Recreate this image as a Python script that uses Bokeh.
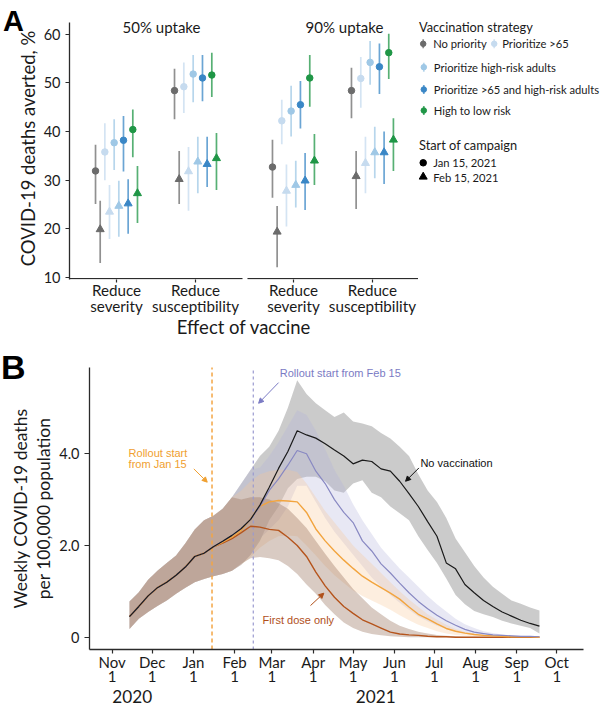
import pandas as pd
from bokeh.plotting import figure
from bokeh.layouts import column, row
from bokeh.models import (Range1d, FixedTicker, Label, Arrow, NormalHead,
                          ColumnDataSource, LinearAxis)
from bokeh.core.properties import value
from bokeh.embed import file_html
from bokeh.resources import INLINE

# ------------------------------------------------------------------ panel A data
strategies = ["No priority", "Prioritize >65", "Prioritize high-risk adults",
              "Prioritize >65 and high-risk adults", "High to low risk"]
effects_l1 = ["Reduce", "Reduce"]
effects_l2 = ["severity", "susceptibility"]
uptakes = ["50% uptake", "90% uptake"]
starts = ["Jan 15, 2021", "Feb 15, 2021"]

u50_sev_jan_mean = [31.9, 35.8, 37.7, 38.2, 40.4]
u50_sev_jan_lo = [25.1, 30.0, 32.1, 31.8, 34.7]
u50_sev_jan_hi = [37.3, 41.7, 42.5, 43.2, 44.5]
u50_sev_feb_mean = [19.9, 23.5, 24.7, 25.2, 27.3]
u50_sev_feb_lo = [13.0, 17.9, 18.4, 19.0, 21.2]
u50_sev_feb_hi = [25.8, 29.0, 29.9, 30.2, 32.9]

u50_sus_jan_mean = [48.4, 49.2, 51.8, 51.0, 51.6]
u50_sus_jan_lo = [42.5, 43.8, 46.0, 46.2, 47.1]
u50_sus_jan_hi = [52.9, 54.2, 55.7, 55.7, 56.2]
u50_sus_feb_mean = [30.2, 31.8, 33.8, 33.3, 34.5]
u50_sus_feb_lo = [25.1, 23.7, 27.3, 28.6, 28.0]
u50_sus_feb_hi = [36.0, 36.8, 38.9, 38.9, 39.7]

u90_sev_jan_mean = [32.7, 42.2, 44.2, 45.5, 51.0]
u90_sev_jan_lo = [26.4, 37.4, 39.0, 40.6, 45.1]
u90_sev_jan_hi = [38.3, 46.5, 49.4, 50.4, 55.7]
u90_sev_feb_mean = [19.4, 27.8, 29.0, 29.9, 34.0]
u90_sev_feb_lo = [12.1, 20.5, 24.4, 23.9, 29.0]
u90_sev_feb_hi = [24.7, 33.2, 34.0, 35.6, 39.5]

u90_sus_jan_mean = [48.4, 50.9, 54.2, 53.3, 56.2]
u90_sus_jan_lo = [42.7, 44.9, 49.6, 47.7, 50.8]
u90_sus_jan_hi = [53.1, 55.3, 58.6, 58.1, 60.1]
u90_sus_feb_mean = [30.8, 33.5, 35.7, 35.7, 38.3]
u90_sus_feb_lo = [24.1, 27.3, 30.4, 29.2, 31.9]
u90_sus_feb_hi = [36.0, 38.9, 41.0, 40.0, 42.7]

# ------------------------------------------------------------------ panel B data
week_dates = pd.date_range("2020-11-14", periods=45, freq="7D")

nv_mean = [0.45, 0.67, 0.90, 1.08, 1.20, 1.35, 1.53, 1.76, 1.83, 1.97, 2.09, 2.22, 2.37, 2.57, 2.88,
           3.27, 3.68, 4.05, 4.50, 4.41, 4.34, 4.22, 4.08, 3.95, 3.78, 3.86, 3.83, 3.67, 3.62, 3.40,
           3.13, 2.85, 2.52, 2.20, 1.62, 1.49, 1.15, 0.97, 0.80, 0.67, 0.55, 0.46, 0.37, 0.30, 0.24]
nv_lo = [0.18, 0.40, 0.55, 0.68, 0.80, 0.95, 1.08, 1.20, 1.27, 1.33, 1.38, 1.45, 1.58, 1.80, 2.10,
         2.55, 2.85, 3.25, 3.45, 3.50, 3.50, 3.40, 3.20, 3.15, 3.35, 3.42, 3.15, 3.05, 2.85, 2.70,
         2.55, 2.20, 1.90, 1.62, 1.28, 0.92, 0.72, 0.57, 0.50, 0.44, 0.36, 0.30, 0.25, 0.20, 0.08]
nv_hi = [0.78, 0.98, 1.25, 1.45, 1.62, 1.78, 2.05, 2.35, 2.55, 2.65, 2.80, 3.05, 3.35, 3.65, 3.95,
         4.15, 4.50, 5.00, 5.60, 5.30, 5.10, 4.95, 4.80, 4.90, 4.70, 4.66, 4.60, 4.45, 4.33, 4.15,
         3.95, 3.55, 3.20, 2.95, 2.60, 2.15, 1.85, 1.55, 1.30, 1.10, 0.95, 0.80, 0.73, 0.65, 0.58]

feb_mean = [0.45, 0.67, 0.90, 1.08, 1.20, 1.35, 1.53, 1.76, 1.83, 1.97, 2.09, 2.22, 2.37, 2.57, 2.85,
            3.20, 3.45, 3.75, 4.07, 4.00, 3.62, 3.35, 3.00, 2.72, 2.50, 2.10, 1.88, 1.60, 1.40, 1.18,
            0.97, 0.78, 0.62, 0.48, 0.36, 0.26, 0.17, 0.11, 0.08, 0.05, 0.04, 0.03, 0.02, 0.02, 0.01]
feb_lo = [0.18, 0.40, 0.55, 0.68, 0.80, 0.95, 1.08, 1.20, 1.27, 1.33, 1.38, 1.45, 1.58, 1.80, 2.15,
          2.35, 2.55, 2.85, 3.30, 3.30, 2.95, 2.60, 2.30, 2.05, 1.80, 1.55, 1.30, 1.10, 0.92, 0.75,
          0.60, 0.45, 0.35, 0.25, 0.18, 0.12, 0.08, 0.05, 0.03, 0.02, 0.01, 0.01, 0.00, 0.00, 0.00]
feb_hi = [0.78, 0.98, 1.25, 1.45, 1.62, 1.78, 2.05, 2.35, 2.55, 2.65, 2.80, 3.05, 3.35, 3.65, 3.70,
          3.95, 4.25, 4.60, 4.95, 4.85, 4.50, 4.10, 3.65, 3.30, 2.90, 2.55, 2.25, 1.95, 1.72, 1.50,
          1.30, 1.10, 0.90, 0.72, 0.56, 0.40, 0.28, 0.20, 0.13, 0.09, 0.06, 0.04, 0.03, 0.02, 0.02]

jan_mean = [0.45, 0.67, 0.90, 1.08, 1.20, 1.35, 1.53, 1.76, 1.83, 1.97, 2.07, 2.18, 2.33, 2.58, 2.85,
            2.95, 2.98, 2.97, 2.95, 2.72, 2.36, 2.10, 1.88, 1.68, 1.50, 1.33, 1.20, 1.08, 0.96, 0.83,
            0.66, 0.50, 0.40, 0.29, 0.19, 0.13, 0.09, 0.06, 0.04, 0.03, 0.02, 0.01, 0.01, 0.01, 0.00]
jan_lo = [0.18, 0.40, 0.55, 0.68, 0.80, 0.95, 1.08, 1.20, 1.27, 1.33, 1.38, 1.45, 1.58, 1.75, 1.95,
          2.10, 2.20, 2.22, 2.20, 2.00, 1.78, 1.55, 1.35, 1.18, 1.02, 0.90, 0.80, 0.70, 0.60, 0.48,
          0.37, 0.27, 0.20, 0.13, 0.08, 0.05, 0.03, 0.02, 0.01, 0.01, 0.00, 0.00, 0.00, 0.00, 0.00]
jan_hi = [0.78, 0.98, 1.25, 1.45, 1.62, 1.78, 2.05, 2.35, 2.55, 2.65, 2.80, 3.05, 3.20, 3.40, 3.55,
          3.62, 3.65, 3.65, 3.60, 3.35, 3.05, 2.75, 2.50, 2.25, 2.00, 1.80, 1.60, 1.40, 1.20, 1.00,
          0.82, 0.66, 0.50, 0.38, 0.27, 0.18, 0.12, 0.08, 0.06, 0.04, 0.03, 0.02, 0.02, 0.01, 0.01]

fd_mean = [0.45, 0.67, 0.90, 1.08, 1.20, 1.35, 1.53, 1.76, 1.83, 1.97, 2.05, 2.15, 2.28, 2.42, 2.40,
           2.35, 2.33, 2.18, 2.00, 1.76, 1.42, 1.12, 0.87, 0.67, 0.52, 0.38, 0.29, 0.20, 0.11, 0.07,
           0.05, 0.04, 0.02, 0.01, 0.01, 0.00, 0.00, 0.00, 0.00, 0.00, 0.00, 0.00, 0.00, 0.00, 0.00]
fd_lo = [0.18, 0.40, 0.55, 0.68, 0.80, 0.95, 1.08, 1.20, 1.27, 1.33, 1.38, 1.45, 1.60, 1.72, 1.75,
         1.72, 1.68, 1.55, 1.38, 1.15, 0.95, 0.70, 0.50, 0.32, 0.20, 0.12, 0.07, 0.04, 0.02, 0.01,
         0.00, 0.00, 0.00, 0.00, 0.00, 0.00, 0.00, 0.00, 0.00, 0.00, 0.00, 0.00, 0.00, 0.00, 0.00]
fd_hi = [0.78, 0.98, 1.25, 1.45, 1.62, 1.78, 2.05, 2.35, 2.55, 2.65, 2.80, 3.05, 3.00, 3.05, 3.05,
         3.00, 2.92, 2.80, 2.60, 2.38, 2.10, 1.82, 1.55, 1.30, 1.05, 0.85, 0.65, 0.50, 0.36, 0.25,
         0.18, 0.12, 0.08, 0.05, 0.03, 0.02, 0.01, 0.01, 0.00, 0.00, 0.00, 0.00, 0.00, 0.00, 0.00]

month_ticks = ["2020-11-01", "2020-12-01", "2021-01-01", "2021-02-01", "2021-03-01", "2021-04-01",
               "2021-05-01", "2021-06-01", "2021-07-01", "2021-08-01", "2021-09-01", "2021-10-01"]
month_names = ["Nov", "Dec", "Jan", "Feb", "Mar", "Apr", "May", "Jun", "Jul", "Aug", "Sep", "Oct"]
month_days = ["1"] * 12
year_ticks = ["2020-11-16", "2021-05-18"]
year_labels = ["2020", "2021"]
rollout_dates = ["2021-01-15", "2021-02-15"]

# ------------------------------------------------------------------ styles
TXT = "#1a1a1a"
AX = "#2b2b2b"
FONT = "Lato"
ARIAL = "Liberation Sans"
strat_colors = ["#6b6b6b", "#c6dbef", "#9fc8e6", "#3a87c6", "#1f9646"]


def ms(s):
    return pd.Timestamp(s).value / 1e6


def style_axis(ax, size):
    ax.axis_line_color = AX
    ax.axis_line_width = 1.3
    ax.major_tick_line_color = AX
    ax.major_tick_line_width = 1.2
    ax.minor_tick_line_color = None
    ax.major_tick_in = 0
    ax.major_label_text_font = FONT
    ax.major_label_text_font_size = size
    ax.major_label_text_color = TXT
    ax.axis_label_text_font = FONT
    ax.axis_label_text_font_style = "normal"
    ax.axis_label_text_color = TXT


def label_axis(ticks, labels, size, standoff):
    ax = LinearAxis(ticker=FixedTicker(ticks=ticks),
                    major_label_overrides={t: l for t, l in zip(ticks, labels)})
    style_axis(ax, size)
    ax.axis_line_color = None
    ax.major_tick_line_color = None
    ax.major_tick_out = 0
    ax.major_label_standoff = standoff
    return ax


def aux_fig(w, page_top, page_bottom, h, border_bottom):
    # page coordinates: data y = -page_y ; frame spans page_top..page_bottom
    f = figure(width=w, height=h, x_range=Range1d(0, w), y_range=Range1d(-page_bottom, -page_top),
               min_border_left=0, min_border_right=0, min_border_top=0,
               min_border_bottom=border_bottom, toolbar_location=None, output_backend="svg",
               x_axis_type=None, y_axis_type=None, outline_line_color=None)
    f.grid.visible = False
    return f


# ------------------------------------------------------------------ panel A
cat_pos = [1.0, 2.0, 3.24, 4.24]
dodge_step = 0.059
groups = [
    (0, 0, 0, u50_sev_jan_mean, u50_sev_jan_lo, u50_sev_jan_hi),
    (0, 0, 1, u50_sev_feb_mean, u50_sev_feb_lo, u50_sev_feb_hi),
    (0, 1, 0, u50_sus_jan_mean, u50_sus_jan_lo, u50_sus_jan_hi),
    (0, 1, 1, u50_sus_feb_mean, u50_sus_feb_lo, u50_sus_feb_hi),
    (1, 0, 0, u90_sev_jan_mean, u90_sev_jan_lo, u90_sev_jan_hi),
    (1, 0, 1, u90_sev_feb_mean, u90_sev_feb_lo, u90_sev_feb_hi),
    (1, 1, 0, u90_sus_jan_mean, u90_sus_jan_lo, u90_sus_jan_hi),
    (1, 1, 1, u90_sus_feb_mean, u90_sus_feb_lo, u90_sus_feb_hi),
]
AH, A_BOT = 340, 279   # row height, frame bottom (page px)

figAL = aux_fig(40, 0, A_BOT, AH, AH - A_BOT)
figAL.text(x=[2.5], y=[-20.5], text=["A"], text_font=value(ARIAL), text_font_size="29px",
           text_font_style="bold", text_color="#000", text_baseline="middle")
figAL.text(x=[27.5], y=[-148], text=["COVID-19 deaths averted, %"], text_font=value(FONT),
           text_font_size="18.5px", text_color=TXT, text_align="center",
           text_baseline="middle", angle=1.5708)

figA = figure(width=378, height=AH, x_range=Range1d(0.405, 4.823),
              y_range=Range1d(9.6, 9.6 + A_BOT / 4.868),
              min_border_left=29, min_border_right=0, min_border_top=0,
              min_border_bottom=AH - A_BOT,
              toolbar_location=None, output_backend="svg", outline_line_color=None)
figA.grid.visible = False

for t in (0, 1):
    xs, mean, lo, hi, col = [], [], [], [], []
    for (f, e, tt, m, l, h) in groups:
        if tt != t:
            continue
        for s in range(5):
            xs.append(cat_pos[2 * f + e] + (2 * s + t - 4.5) * dodge_step)
            mean.append(m[s]); lo.append(l[s]); hi.append(h[s]); col.append(strat_colors[s])
    src = ColumnDataSource(dict(x=xs, mean=mean, lo=lo, hi=hi, color=col))
    figA.segment(x0="x", x1="x", y0="lo", y1="hi", line_color="color", line_width=1.7,
                 line_alpha=0.75, source=src)
    figA.scatter(x="x", y="mean", marker="circle" if t == 0 else "triangle",
                 size=6.5 if t == 0 else 8, fill_color="color", line_color="color", source=src)

# x-axis line drawn per facet (gap between facets)
figA.segment(x0=[0.405, 2.658], x1=[2.595, 4.823], y0=[9.78, 9.78], y1=[9.78, 9.78],
             line_color=AX, line_width=1.3)

style_axis(figA.xaxis[0], "15.2px")
style_axis(figA.yaxis[0], "14.5px")
figA.xaxis.axis_line_color = None
figA.xaxis.ticker = FixedTicker(ticks=cat_pos)
figA.xaxis.major_label_overrides = {cat_pos[i]: effects_l1[i % 2] for i in range(4)}
figA.xaxis.major_tick_out = 3
figA.xaxis.major_label_standoff = -2
figA.yaxis.ticker = FixedTicker(ticks=[10, 20, 30, 40, 50, 60])
figA.yaxis.bounds = (9.6, 62.4)
figA.yaxis.major_tick_out = 4
figA.yaxis.major_label_standoff = 5

axA2 = label_axis(cat_pos, [effects_l2[i % 2] for i in range(4)], "15.2px", -5)
axA2.axis_label = "Effect of vaccine"
axA2.axis_label_text_font_size = "18.5px"
axA2.axis_label_standoff = -2
figA.add_layout(axA2, "below")

figA.add_layout(Label(x=1.57, y=61.5, text=uptakes[0], text_font=FONT, text_font_size="15px",
                      text_color=TXT, text_align="center", text_baseline="middle"))
figA.add_layout(Label(x=3.886, y=61.5, text=uptakes[1], text_font=FONT, text_font_size="15px",
                      text_color=TXT, text_align="center", text_baseline="middle"))

# ------------------------------------------------------------------ legend
figL = aux_fig(182, 0, A_BOT, AH, AH - A_BOT)
leg_titles = ["Vaccination strategy", "Start of campaign"]
figL.text(x=[0.5, 0.5], y=[-26, -144.3], text=leg_titles, text_font=value(FONT),
          text_font_size="12.8px", text_color=TXT, text_baseline="middle")
key_x = [4.7, 75.7, 5.3, 5.3, 5.3]
key_y = [-43.3, -43.3, -66.7, -89, -110]
lab_x = [14.7, 83.7, 15.3, 15.3, 15.3]
figL.segment(x0=key_x, x1=key_x, y0=[y - 4.5 for y in key_y], y1=[y + 4.5 for y in key_y],
             line_color=strat_colors, line_width=1.7, line_alpha=0.75)
figL.scatter(x=key_x, y=key_y, size=5.5, marker="circle", fill_color=strat_colors,
             line_color=strat_colors)
figL.text(x=lab_x, y=key_y, text=strategies, text_font=value(FONT), text_font_size="11.2px",
          text_color=TXT, text_baseline="middle")
figL.scatter(x=[4.7], y=[-162.3], size=6.5, marker="circle", color="#000")
figL.scatter(x=[4.7], y=[-176.3], size=8, marker="triangle", color="#000")
figL.text(x=[14.7, 14.7], y=[-162.3, -176.7], text=starts, text_font=value(FONT),
          text_font_size="11.2px", text_color=TXT, text_baseline="middle")

# ------------------------------------------------------------------ panel B
B_TOP, B_BOT = AH, 649
BH = 724 - B_TOP
figBL = aux_fig(56, B_TOP, B_BOT, BH, B_TOP + BH - B_BOT)
figBL.text(x=[0.5], y=[-366.5], text=["B"], text_font=value(ARIAL), text_font_size="34px",
           text_font_style="bold", text_color="#000", text_baseline="middle")
figBL.text(x=[20, 43], y=[-508, -508],
           text=["Weekly COVID-19 deaths", "per 100,000 population"], text_font=value(FONT),
           text_font_size="17.5px", text_color=TXT, text_align="center", text_baseline="middle",
           angle=1.5708)

x0 = pd.Timestamp("2020-11-01") - pd.Timedelta(days=17.05)
x1 = pd.Timestamp("2020-11-01") + pd.Timedelta(days=354.1)
y_per_px = 6.148 / 282
figB = figure(width=544, height=BH, x_axis_type="datetime", x_range=Range1d(x0, x1),
              y_range=Range1d(-0.268, -0.268 + (B_BOT - B_TOP) * y_per_px),
              min_border_left=33, min_border_right=17, min_border_top=0,
              min_border_bottom=B_TOP + BH - B_BOT,
              toolbar_location=None, output_backend="svg", outline_line_color=None)
figB.grid.visible = False

srcB = ColumnDataSource(dict(date=week_dates, nv_mean=nv_mean, nv_lo=nv_lo, nv_hi=nv_hi,
                             feb_mean=feb_mean, feb_lo=feb_lo, feb_hi=feb_hi,
                             jan_mean=jan_mean, jan_lo=jan_lo, jan_hi=jan_hi,
                             fd_mean=fd_mean, fd_lo=fd_lo, fd_hi=fd_hi))
figB.varea(x="date", y1="nv_lo", y2="nv_hi", fill_color="#a0a0a0", fill_alpha=0.55, source=srcB)
figB.varea(x="date", y1="feb_lo", y2="feb_hi", fill_color="#b4b4dc", fill_alpha=0.3, source=srcB)
figB.varea(x="date", y1="jan_lo", y2="jan_hi", fill_color="#f9c896", fill_alpha=0.3, source=srcB)
figB.varea(x="date", y1="fd_lo", y2="fd_hi", fill_color="#9c7560", fill_alpha=0.38, source=srcB)

figB.segment(x0=[ms(rollout_dates[0])], x1=[ms(rollout_dates[0])], y0=[-0.268], y1=[5.88],
             line_color="#f3a544", line_dash="4 3", line_width=1.5)
figB.segment(x0=[ms(rollout_dates[1])], x1=[ms(rollout_dates[1])], y0=[-0.268], y1=[5.88],
             line_color="#9a9ad0", line_dash="3 3", line_width=1.2)

figB.line(x="date", y="fd_mean", line_color="#b5541c", line_width=1.4, source=srcB)
figB.line(x="date", y="jan_mean", line_color="#f2a43e", line_width=1.4, source=srcB)
figB.line(x="date", y="feb_mean", line_color="#8888c2", line_width=1.2, source=srcB)
figB.line(x="date", y="nv_mean", line_color="#1a1a1a", line_width=1.2, source=srcB)

style_axis(figB.xaxis[0], "15px")
style_axis(figB.yaxis[0], "14.5px")
mt = [ms(d) for d in month_ticks]
figB.xaxis.ticker = FixedTicker(ticks=mt)
figB.xaxis.major_label_overrides = {t: l for t, l in zip(mt, month_names)}
figB.xaxis.major_tick_out = 4
figB.xaxis.major_label_standoff = -1
figB.yaxis.ticker = FixedTicker(ticks=[0, 2, 4])
figB.yaxis.major_label_overrides = {0: "0", 2: "2.0", 4: "4.0"}
figB.yaxis.bounds = (-0.268, 5.88)
figB.yaxis.major_tick_out = 5
figB.yaxis.major_label_standoff = 5

figB.add_layout(label_axis(mt, month_days, "15px", -3), "below")
figB.add_layout(label_axis([ms(d) for d in year_ticks], year_labels, "17.2px", 5), "below")


def note(text, d, y, color):
    figB.add_layout(Label(x=ms(d), y=y, text=text, text_font=ARIAL, text_font_size="11px",
                          text_color=color, text_baseline="middle"))


def arrow(d0, y0, d1, y1, color):
    figB.add_layout(Arrow(end=NormalHead(size=5, fill_color=color, line_color=color),
                          x_start=ms(d0), y_start=y0, x_end=ms(d1), y_end=y1,
                          line_color=color, line_width=1))


PURP = "#7b7bc4"
ORNG = "#f0a030"
BRWN = "#b0501a"
note("Rollout start from Feb 15", "2021-03-06 22:00", 5.75, PURP)
arrow("2021-03-06", 5.55, "2021-02-19", 5.10, PURP)
note("Rollout start", "2020-11-13 08:00", 4.01, ORNG)
note("from Jan 15", "2020-11-13 08:00", 3.78, ORNG)
arrow("2021-01-01 08:00", 3.67, "2021-01-11 10:00", 3.38, ORNG)
note("No vaccination", "2021-06-20 14:00", 3.79, "#111111")
arrow("2021-06-19 10:00", 3.69, "2021-06-09 10:00", 3.40, "#111111")
note("First dose only", "2021-02-22", 0.386, BRWN)
arrow("2021-03-30", 0.69, "2021-04-09", 0.96, BRWN)

layout = column(row(figAL, figA, figL, spacing=0), row(figBL, figB, spacing=0), spacing=0)
open("out.html", "w").write(file_html(layout, INLINE))
